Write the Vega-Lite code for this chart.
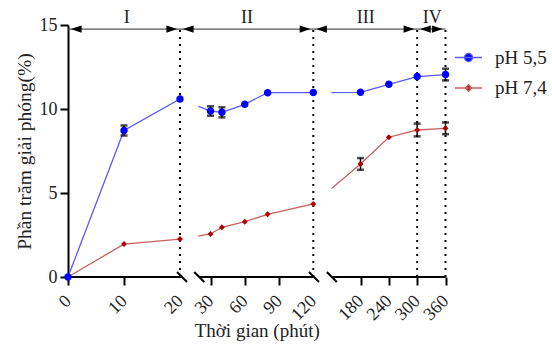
{
  "$schema": "https://vega.github.io/schema/vega-lite/v6.json",
  "width": 378,
  "height": 252,
  "autosize": {"type": "none"},
  "padding": {"left": 68, "top": 25, "right": 106, "bottom": 67},
  "background": "white",
  "config": {"view": {"stroke": null}, "font": "Liberation Serif"},
  "datasets": {
    "release": [
      {"series": "pH 7,4", "t": 0, "v": 0, "err": 0},
      {"series": "pH 7,4", "t": 10, "v": 1.96, "err": 0},
      {"series": "pH 7,4", "t": 20, "v": 2.26, "err": 0},
      {"series": "pH 7,4", "t": 30, "v": 2.56, "err": 0},
      {"series": "pH 7,4", "t": 40, "v": 2.96, "err": 0},
      {"series": "pH 7,4", "t": 60, "v": 3.29, "err": 0},
      {"series": "pH 7,4", "t": 80, "v": 3.73, "err": 0},
      {"series": "pH 7,4", "t": 120, "v": 4.35, "err": 0},
      {"series": "pH 7,4", "t": 180, "v": 6.73, "err": 0.35},
      {"series": "pH 7,4", "t": 240, "v": 8.32, "err": 0},
      {"series": "pH 7,4", "t": 300, "v": 8.75, "err": 0.38},
      {"series": "pH 7,4", "t": 360, "v": 8.85, "err": 0.35},
      {"series": "pH 5,5", "t": 0, "v": 0, "err": 0},
      {"series": "pH 5,5", "t": 10, "v": 8.72, "err": 0.3},
      {"series": "pH 5,5", "t": 20, "v": 10.6, "err": 0},
      {"series": "pH 5,5", "t": 30, "v": 9.88, "err": 0.28},
      {"series": "pH 5,5", "t": 40, "v": 9.8, "err": 0.3},
      {"series": "pH 5,5", "t": 60, "v": 10.28, "err": 0},
      {"series": "pH 5,5", "t": 80, "v": 10.97, "err": 0},
      {"series": "pH 5,5", "t": 120, "v": 10.98, "err": 0},
      {"series": "pH 5,5", "t": 180, "v": 10.99, "err": 0},
      {"series": "pH 5,5", "t": 240, "v": 11.47, "err": 0},
      {"series": "pH 5,5", "t": 300, "v": 11.93, "err": 0},
      {"series": "pH 5,5", "t": 360, "v": 12.05, "err": 0.35}
    ],
    "arrows": [
      {"seg": "I", "a": 0, "b": 20, "lx": 10.5},
      {"seg": "II", "a": 20, "b": 120, "lx": 62},
      {"seg": "III", "a": 120, "b": 300, "lx": 191},
      {"seg": "IV", "a": 300, "b": 360, "lx": 332}
    ],
    "guides": [{"t": 20}, {"t": 120}, {"t": 300}, {"t": 360}],
    "axisline": [{"a": 0, "b": 20.67}, {"a": 26.3, "b": 120.9}, {"a": 143.6, "b": 360}],
    "breaks": [{"t": 20.67}, {"t": 26.3}, {"t": 120.9}, {"t": 143.6}],
    "gaps": [{"a": 20, "b": 26}, {"a": 120, "b": 143}]
  },
  "layer": [
    {
      "data": {"name": "release"},
      "mark": {"type": "line", "strokeWidth": 1.3},
      "encoding": {
        "x": {
          "field": "t", "type": "quantitative", "title": "Thời gian (phút)",
          "scale": {"domain": [0, 20, 30, 120, 180, 360], "range": [0, 112, 142.5, 245.3, 292.5, 377.5], "nice": false, "zero": false},
          "axis": {
            "values": [0, 10, 20, 30, 60, 90, 120, 180, 240, 300, 360],
            "tickCount": 30,
            "title": "Thời gian (phút)",
            "domain": false, "grid": false,
            "tickSize": 8, "tickWidth": 2, "tickColor": "black",
            "tickOpacity": {"condition": {"test": "datum.value == 20 || datum.value == 120", "value": 0}, "value": 1},
            "labelAngle": -45, "labelAlign": "right", "labelBaseline": "middle",
            "labelFontSize": 18, "labelColor": "#222", "labelPadding": 13,
            "labelOverlap": false, "labelFlush": false, "labelBound": false,
            "titleFontSize": 19, "titleColor": "#222", "titleFontWeight": "normal", "titlePadding": -2
          }
        },
        "y": {
          "field": "v", "type": "quantitative", "title": "Phần trăm giải phóng(%)",
          "scale": {"domain": [0, 15], "nice": false},
          "axis": {
            "values": [0, 5, 10, 15],
            "title": "Phần trăm giải phóng(%)",
            "grid": false,
            "domainColor": "black", "domainWidth": 2,
            "tickSize": 8, "tickWidth": 2, "tickColor": "black",
            "labelFontSize": 18, "labelColor": "#222", "labelPadding": 3,
            "titleFontSize": 19.5, "titleColor": "#222", "titleFontWeight": "normal", "titlePadding": 5
          }
        },
        "stroke": {"field": "series", "type": "nominal", "scale": {"range": ["#5a5aff", "#c86060"]}, "legend": null}
      }
    },
    {
      "data": {"name": "gaps"},
      "mark": {"type": "rect", "fill": "white"},
      "encoding": {
        "x": {"field": "a", "type": "quantitative", "title": "Thời gian (phút)"},
        "x2": {"field": "b"},
        "y": {"datum": 0, "type": "quantitative", "title": "Phần trăm giải phóng(%)"},
        "y2": {"datum": 15}
      }
    },
    {
      "data": {"name": "guides"},
      "mark": {"type": "rule", "strokeDash": [2, 5], "strokeWidth": 2, "color": "black"},
      "encoding": {
        "x": {"field": "t", "type": "quantitative", "title": "Thời gian (phút)"},
        "y": {"datum": 0, "type": "quantitative", "title": "Phần trăm giải phóng(%)"},
        "y2": {"datum": 14.85}
      }
    },
    {
      "data": {"name": "axisline"},
      "mark": {"type": "rule", "strokeWidth": 2, "color": "black"},
      "encoding": {
        "x": {"field": "a", "type": "quantitative", "title": "Thời gian (phút)"},
        "x2": {"field": "b"},
        "y": {"datum": 0, "type": "quantitative", "title": "Phần trăm giải phóng(%)"}
      }
    },
    {
      "data": {"name": "breaks"},
      "mark": {"type": "point", "shape": "M-1,-1L1,1", "size": 100, "strokeWidth": 2, "color": "black", "filled": false, "opacity": 1},
      "encoding": {
        "x": {"field": "t", "type": "quantitative", "title": "Thời gian (phút)"},
        "y": {"datum": 0, "type": "quantitative", "title": "Phần trăm giải phóng(%)"}
      }
    },
    {
      "data": {"name": "arrows"},
      "mark": {"type": "rule", "color": "#555", "strokeWidth": 1.2},
      "encoding": {
        "x": {"field": "a", "type": "quantitative", "title": "Thời gian (phút)"},
        "x2": {"field": "b"},
        "y": {"datum": 14.76, "type": "quantitative", "title": "Phần trăm giải phóng(%)"}
      }
    },
    {
      "data": {"name": "arrows"},
      "mark": {"type": "point", "shape": "M0.7,0L3.4,-0.9L3.4,0.9Z", "size": 64, "filled": true, "color": "black", "opacity": 1, "strokeWidth": 0},
      "encoding": {
        "x": {"field": "a", "type": "quantitative", "title": "Thời gian (phút)"},
        "y": {"datum": 14.76, "type": "quantitative", "title": "Phần trăm giải phóng(%)"}
      }
    },
    {
      "data": {"name": "arrows"},
      "mark": {"type": "point", "shape": "M-0.7,0L-3.4,-0.9L-3.4,0.9Z", "size": 64, "filled": true, "color": "black", "opacity": 1, "strokeWidth": 0},
      "encoding": {
        "x": {"field": "b", "type": "quantitative", "title": "Thời gian (phút)"},
        "y": {"datum": 14.76, "type": "quantitative", "title": "Phần trăm giải phóng(%)"}
      }
    },
    {
      "data": {"name": "arrows"},
      "mark": {"type": "text", "fontSize": 18, "color": "#222", "baseline": "alphabetic", "dy": -6, "align": "center"},
      "encoding": {
        "x": {"field": "lx", "type": "quantitative", "title": "Thời gian (phút)"},
        "y": {"datum": 14.76, "type": "quantitative", "title": "Phần trăm giải phóng(%)"},
        "text": {"field": "seg"}
      }
    },
    {
      "data": {"name": "release"},
      "transform": [{"filter": "datum.err > 0"}],
      "mark": {"type": "errorbar", "color": "black", "thickness": 1.5, "ticks": {"size": 7, "thickness": 2.5, "color": "black"}},
      "encoding": {
        "x": {"field": "t", "type": "quantitative", "title": "Thời gian (phút)"},
        "y": {"field": "v", "type": "quantitative", "title": "Phần trăm giải phóng(%)"},
        "yError": {"field": "err"}
      }
    },
    {
      "data": {"name": "release"},
      "mark": {"type": "point", "filled": true, "size": 625, "strokeWidth": 0, "opacity": 1},
      "encoding": {
        "x": {"field": "t", "type": "quantitative", "title": "Thời gian (phút)"},
        "y": {"field": "v", "type": "quantitative", "title": "Phần trăm giải phóng(%)"},
        "color": {
          "field": "series", "type": "nominal",
          "scale": {"domain": ["pH 5,5", "pH 7,4"], "range": ["#0000ff", "#b00000"]},
          "legend": {"orient": "none", "legendX": 386, "legendY": 18, "title": null, "symbolSize": 729, "symbolStrokeWidth": 1.3, "labelFontSize": 19, "labelColor": "#222", "labelOffset": 12, "rowPadding": 5.5, "padding": 0, "symbolOpacity": 1,
            "encoding": {"symbols": {"stroke": {"condition": {"test": "datum.value == 'pH 5,5'", "value": "#5a5aff"}, "value": "#c86060"}, "strokeWidth": {"value": 1.3}}}}
        },
        "shape": {
          "field": "series", "type": "nominal",
          "scale": {"domain": ["pH 5,5", "pH 7,4"], "range": ["M-1,0L1,0M0.3,0A0.3,0.3 0 1,1 -0.3,0A0.3,0.3 0 1,1 0.3,0Z", "M-1,0L1,0M0,-0.24L0.24,0L0,0.24L-0.24,0Z"]},
          "legend": {"orient": "none", "legendX": 386, "legendY": 18, "title": null, "symbolSize": 729, "symbolStrokeWidth": 1.3, "labelFontSize": 19, "labelColor": "#222", "labelOffset": 12, "rowPadding": 5.5, "padding": 0, "symbolOpacity": 1,
            "encoding": {"symbols": {"stroke": {"condition": {"test": "datum.value == 'pH 5,5'", "value": "#5a5aff"}, "value": "#c86060"}, "strokeWidth": {"value": 1.3}}}}
        }
      }
    }
  ]
}
